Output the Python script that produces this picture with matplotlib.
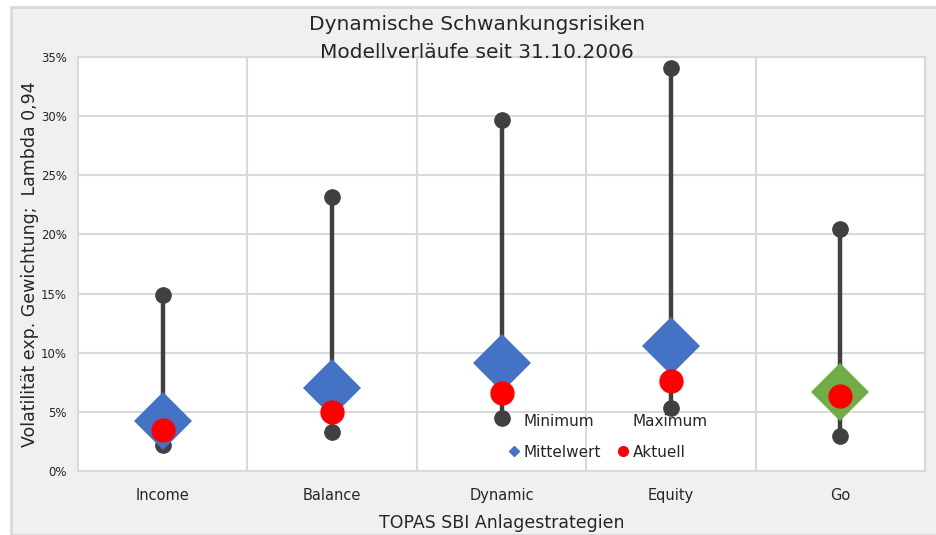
import matplotlib.pyplot as plt
import numpy as np
from matplotlib.lines import Line2D
from matplotlib.patches import Rectangle
from matplotlib.ticker import PercentFormatter

#### data ####
categories = ['Income', 'Balance', 'Dynamic', 'Equity', 'Go']
minimum = [2.2, 3.3, 4.5, 5.3, 3.0]
maximum = [14.9, 23.2, 29.7, 34.1, 20.5]
mittelwert = [4.2, 7.0, 9.1, 10.6, 6.7]
aktuell = [3.5, 5.0, 6.6, 7.6, 6.3]
mean_colors = ['#4472c4', '#4472c4', '#4472c4', '#4472c4', '#70ad47']

#### figure ####
fig = plt.figure(figsize=(9.36, 5.35), dpi=100, facecolor='white')
fig.patches.append(Rectangle((11 / 936, 0), 1, (535 - 7) / 535, transform=fig.transFigure,
                             facecolor='#f0f0f0', edgecolor='#d9d9d9', linewidth=2, zorder=-10))

ax = fig.add_axes([78 / 936, 64 / 535, 847 / 936, 414 / 535])
ax.set_facecolor('white')

x = np.arange(len(categories))

# range lines + min / max
ax.vlines(x, minimum, maximum, color='#404040', linewidth=3.2, zorder=3)
ax.plot(x, minimum, 'o', color='#404040', markersize=11, zorder=4)
ax.plot(x, maximum, 'o', color='#404040', markersize=11, zorder=4)

# mean diamonds
for xi, m, c in zip(x, mittelwert, mean_colors):
    ax.plot(xi, m, 'D', color=c, markersize=30, markeredgewidth=0, zorder=5)

# current value
ax.plot(x, aktuell, 'o', color='#ff0000', markersize=17.5, markeredgewidth=0, zorder=6)

#### axes ####
ax.set_xlim(-0.5, len(categories) - 0.5)
ax.set_ylim(0, 35)
ax.set_yticks(np.arange(0, 36, 5))
ax.yaxis.set_major_formatter(PercentFormatter(decimals=0))
ax.set_xticks(x)
ax.set_xticklabels(categories, fontsize=10.5, color='#262626')
ax.tick_params(axis='y', labelsize=8.5, colors='#262626', length=0, pad=8)
ax.tick_params(axis='x', length=0, pad=12)

ax.set_xticks(np.arange(0.5, len(categories) - 0.5, 1), minor=True)
ax.grid(axis='y', which='major', color='#d9d9d9', linewidth=1.5, zorder=1)
ax.grid(axis='x', which='minor', color='#d9d9d9', linewidth=1.5, zorder=1)
ax.tick_params(axis='x', which='minor', length=0)
ax.set_axisbelow(True)
for s in ax.spines.values():
    s.set_color('#d9d9d9')
    s.set_linewidth(1.5)

ax.set_ylabel('Volatilität exp. Gewichtung;  Lambda 0,94', fontsize=12.5, color='#262626', labelpad=1)
ax.set_xlabel('TOPAS SBI Anlagestrategien', fontsize=12.5, color='#262626', labelpad=8)

fig.text(477 / 936, 1 - 25 / 535, 'Dynamische Schwankungsrisiken', ha='center', va='center',
         fontsize=14.5, color='#262626')
fig.text(477 / 936, 1 - 52 / 535, 'Modellverläufe seit 31.10.2006', ha='center', va='center',
         fontsize=14.5, color='#262626')

#### legend ####
handles = [
    Line2D([], [], linestyle='none', marker=None),
    Line2D([], [], linestyle='none', marker='D', color='#4472c4', markersize=5),
    Line2D([], [], linestyle='none', marker=None),
    Line2D([], [], linestyle='none', marker='o', color='#ff0000', markersize=7),
]
labels = ['Minimum', 'Mittelwert', 'Maximum', 'Aktuell']
ax.legend(handles, labels, ncol=2, loc='upper left', bbox_to_anchor=(0.493, 0.17),
          frameon=False, fontsize=11, handlelength=0.6, handletextpad=0.3,
          columnspacing=1.2, labelspacing=1.0, labelcolor='#262626')

fig.savefig('out.png', dpi=100, facecolor=fig.get_facecolor())
